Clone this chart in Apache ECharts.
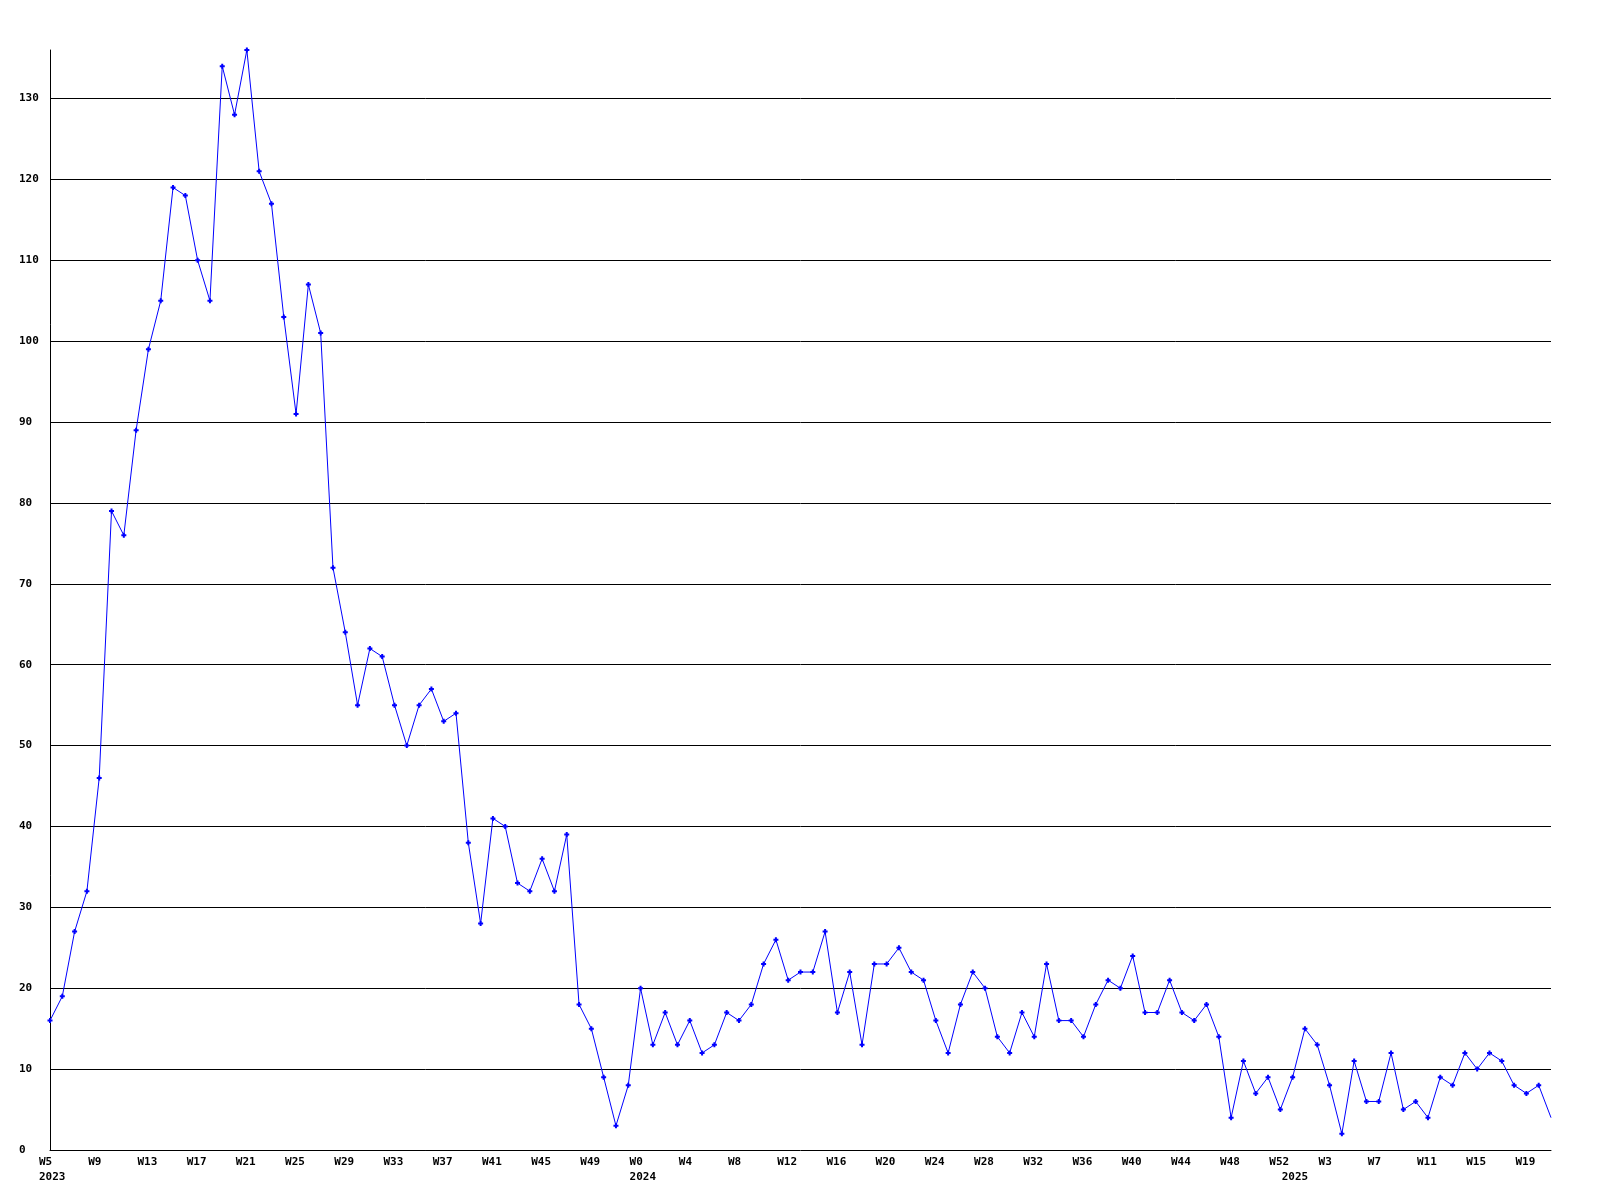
<!DOCTYPE html>
<html><head><meta charset="utf-8">
<script src="https://cdn.jsdelivr.net/npm/echarts@6/dist/echarts.min.js"></script>
<style>html,body{margin:0;padding:0;background:#fff}#c{width:1600px;height:1200px}</style>
</head><body><div id="c"></div>
<script>
// Weekly periods shown on the x axis
const years = [2023, 2024, 2025];
const firstWeek = [5, 0, 0];
const lastWeek = [52, 52, 21];

// Weekly counts (one per week, W5 2023 .. W21 2025)
const values = [
  16, 19, 27, 32, 46, 79, 76, 89, 99, 105, 119, 118, 110, 105, 134, 128, 136, 121, 117, 103,
  91, 107, 101, 72, 64, 55, 62, 61, 55, 50, 55, 57, 53, 54, 38, 28, 41, 40, 33, 32,
  36, 32, 39, 18, 15, 9, 3, 8,
  20, 13, 17, 13, 16, 12, 13, 17, 16, 18, 23, 26, 21, 22, 22, 27, 17, 22, 13, 23,
  23, 25, 22, 21, 16, 12, 18, 22, 20, 14, 12, 17, 14, 23, 16, 16, 14, 18, 21, 20,
  24, 17, 17, 21, 17, 16, 18, 14, 4, 11, 7, 9, 5,
  9, 15, 13, 8, 2, 11, 6, 6, 12, 5, 6, 4, 9, 8, 12, 10, 12, 11, 8, 7, 8, 4
];

// y axis ticks
const yMin = 0, yMax = 136, yStep = 10;

// Build category labels from the week ranges
const weekLabels = [];
const weekYears = [];
const yearStart = [];
years.forEach((y, i) => {
  for (let w = firstWeek[i]; w <= lastWeek[i]; w++) {
    weekLabels.push('W' + w);
    weekYears.push(y);
    yearStart.push(w === firstWeek[i]);
  }
});

const font = { fontFamily: '"DejaVu Sans Mono", monospace', fontWeight: 'bold', fontSize: 11, color: '#000' };
const marker = 'path://M1.5 0H3.5V1.5H5V3.5H3.5V5H1.5V3.5H0V1.5H1.5Z';

const chart = echarts.init(document.getElementById('c'), null, { renderer: 'canvas' });
chart.setOption({
  animation: false,
  backgroundColor: '#fff',
  grid: { left: 50, right: 49, top: 50, bottom: 50, containLabel: false },
  xAxis: {
    type: 'category',
    data: weekLabels,
    boundaryGap: false,
    axisLine: { show: true, lineStyle: { color: '#000', width: 1 } },
    axisTick: { show: false },
    splitLine: { show: false },
    axisLabel: {
      margin: 5,
      interval: (idx) => idx % 4 === 0 || yearStart[idx],
      formatter: (val, idx) => {
        const top = idx % 4 === 0 ? val : ' ';
        return '{a|' + top + '}' + (yearStart[idx] ? '\n{a|' + weekYears[idx] + '}' : '');
      },
      lineHeight: 15,
      rich: { a: Object.assign({ width: 22, align: 'left', lineHeight: 15 }, font) },
      ...font
    }
  },
  yAxis: {
    type: 'value',
    min: yMin, max: yMax, interval: yStep,
    axisLine: { show: true, lineStyle: { color: '#000', width: 1 } },
    axisTick: { show: false },
    splitLine: { show: true, showMinLine: false, showMaxLine: false, lineStyle: { color: '#000', width: 1 } },
    axisLabel: Object.assign({ margin: 31, align: 'left', showMaxLabel: false }, font)
  },
  series: [{
    type: 'line',
    data: values,
    lineStyle: { color: '#0000ff', width: 1 },
    itemStyle: { color: '#0000ff' },
    symbol: (v, p) => (p.dataIndex === values.length - 1 ? 'none' : marker),
    symbolSize: 5,
    showAllSymbol: true,
    emphasis: { disabled: true },
    silent: true
  }]
});
</script>
</body></html>
